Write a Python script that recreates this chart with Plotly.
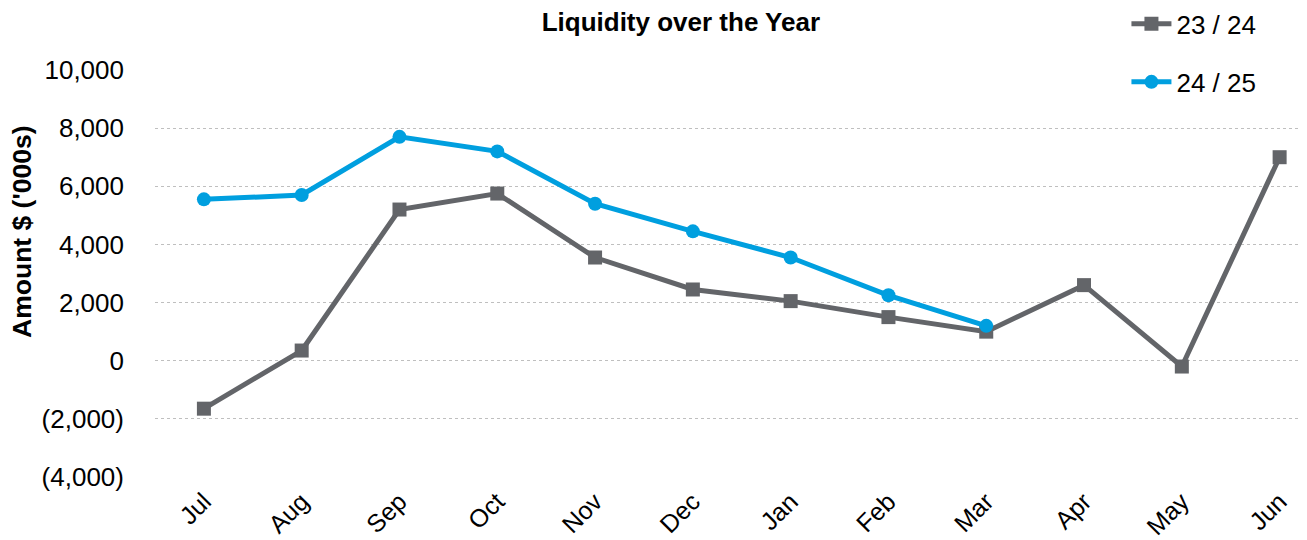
import plotly.graph_objects as go

months = ['Jul', 'Aug', 'Sep', 'Oct', 'Nov', 'Dec', 'Jan', 'Feb', 'Mar', 'Apr', 'May', 'Jun']
fy2324 = [-1650, 350, 5200, 5750, 3550, 2450, 2050, 1500, 1000, 2600, -200, 7000]
fy2425 = [5550, 5700, 7700, 7200, 5400, 4450, 3550, 2250, 1200]
ytickvals = [-4000, -2000, 0, 2000, 4000, 6000, 8000, 10000]
yticktext = ['(4,000)', '(2,000)', '0', '2,000', '4,000', '6,000', '8,000', '10,000']

GREY = '#636569'
BLUE = '#009FDF'
FONT = 'Liberation Sans, Arial, sans-serif'


def main():
    fig = go.Figure()
    fig.add_trace(go.Scatter(x=months, y=fy2324, name='23 / 24', mode='lines+markers',
                             line=dict(color=GREY, width=5),
                             marker=dict(symbol='square', size=14, color=GREY),
                             legend='legend', showlegend=True))
    fig.add_trace(go.Scatter(x=months[:len(fy2425)], y=fy2425, name='24 / 25', mode='lines+markers',
                             line=dict(color=BLUE, width=5),
                             marker=dict(symbol='circle', size=14, color=BLUE),
                             legend='legend2', showlegend=True))

    # page body has an 8px margin, so the figure is a bit smaller than the window
    fig.update_layout(
        width=1299, height=532,
        showlegend=True,
        margin=dict(l=147, r=0, t=62, b=63, autoexpand=False),
        plot_bgcolor='white', paper_bgcolor='white',
        font=dict(family=FONT, color='black'),
        title=dict(text='<b>Liquidity over the Year</b>', x=0.518, xref='container',
                   y=0.973, yref='container', xanchor='center', yanchor='middle',
                   font=dict(size=26, color='black')),
        legend=dict(x=0.861, y=0.970, xref='container', yref='container',
                    xanchor='left', yanchor='middle',
                    font=dict(size=26), bgcolor='rgba(0,0,0,0)', itemwidth=40),
        legend2=dict(x=0.861, y=0.861, xref='container', yref='container',
                     xanchor='left', yanchor='middle',
                     font=dict(size=26), bgcolor='rgba(0,0,0,0)', itemwidth=40),
        annotations=[dict(text="<b>Amount $ ('000s)</b>", x=-0.116, y=0.603,
                          xref='paper', yref='paper', xanchor='center', yanchor='middle',
                          textangle=-90, showarrow=False, font=dict(size=26.5, color='black'))],
    )
    fig.update_xaxes(range=[-0.5, 11.28], tickangle=-45, showgrid=False, zeroline=False,
                     showline=False, tickfont=dict(size=25), ticklabelstandoff=4,
                     automargin=False)
    fig.update_yaxes(range=[-4000, 10000], tickvals=ytickvals, ticktext=yticktext,
                     showgrid=True, gridcolor='#BFBFBF', griddash='dot', gridwidth=1.2,
                     zeroline=False, showline=False, tickfont=dict(size=26),
                     ticklabelstandoff=30, automargin=False)
    fig.write_html('out.html')


if __name__ == '__main__':
    main()
